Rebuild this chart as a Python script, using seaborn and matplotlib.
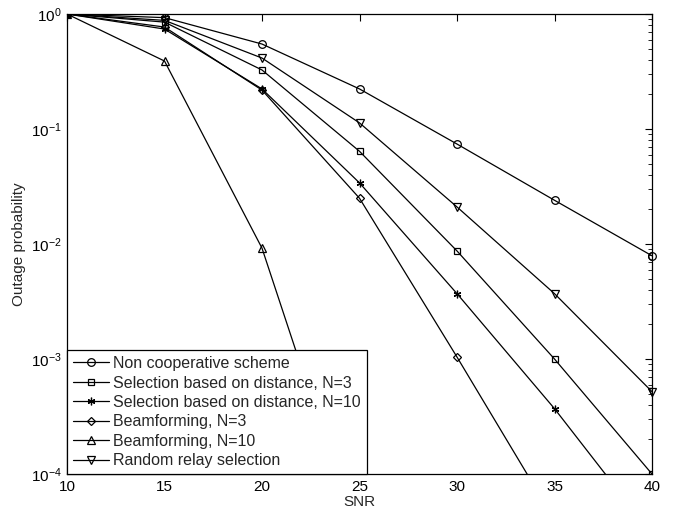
import matplotlib
matplotlib.use("Agg")
import matplotlib.pyplot as plt
import seaborn as sns
import numpy as np

snr_full = [10, 15, 20, 25, 30, 35, 40]
non_coop = [1.0, 0.93, 0.548, 0.223, 0.074, 0.024, 0.0079]
sel_n3 = [1.0, 0.85, 0.326, 0.064, 0.0087, 0.001, 1.0e-4]
sel_n10 = [1.0, 0.74, 0.223, 0.034, 0.0037, 0.00037, 3.0e-5]
snr_bf3 = [10, 15, 20, 25, 30, 35]
bf_n3 = [1.0, 0.77, 0.218, 0.025, 0.00104, 4.0e-5]
snr_bf10 = [10, 15, 20, 25]
bf_n10 = [1.0, 0.39, 0.0092, 2.5e-5]
rand_sel = [1.0, 0.88, 0.414, 0.113, 0.021, 0.0037, 5.2e-4]

labels = ["Non cooperative scheme",
          "Selection based on distance, N=3",
          "Selection based on distance, N=10",
          "Beamforming, N=3",
          "Beamforming, N=10",
          "Random relay selection"]
xticks = [10, 15, 20, 25, 30, 35, 40]

sns.set_style("white")
plt.rcParams['font.family'] = ['Liberation Sans', 'DejaVu Sans']
plt.rcParams['mathtext.fontset'] = 'custom'
plt.rcParams['mathtext.rm'] = 'Liberation Sans'
plt.rcParams['mathtext.it'] = 'Liberation Sans'

fig = plt.figure(figsize=(6.83, 5.13), dpi=100)
ax = fig.add_axes([67/683, 39/513, (652-67)/683, (474-14)/513])

series = [
    (snr_full, non_coop, 'o'),
    (snr_full, sel_n3, 's'),
    (snr_full, sel_n10, (6, 2, 0)),
    (snr_bf3, bf_n3, 'D'),
    (snr_bf10, bf_n10, '^'),
    (snr_full, rand_sel, 'v'),
]
for (xs, ys, mk), lab in zip(series, labels):
    ms = 5.5
    if mk == 'D':
        ms = 4.5
    if mk == 's':
        ms = 4.8
    sns.lineplot(x=xs, y=ys, ax=ax, color='black', linewidth=0.9,
                 marker=mk, markersize=ms, markerfacecolor='none',
                 markeredgecolor='black', markeredgewidth=0.9, label=lab)

ax.set_yscale('log')
ax.set_xlim(10, 40)
ax.set_ylim(1e-4, 1)
ax.set_xticks(xticks)
ax.set_xticklabels([str(t) for t in xticks])
ax.set_yticks([1e-4, 1e-3, 1e-2, 1e-1, 1])
ax.tick_params(axis='both', which='both', direction='in', top=True, right=True,
               labelsize=11, colors='black')
ax.tick_params(axis='both', which='major', length=5, width=0.8, pad=4)
ax.tick_params(axis='y', which='minor', length=3, width=0.6)
ax.tick_params(axis='x', which='minor', length=0)
for s in ax.spines.values():
    s.set_color('black')
    s.set_linewidth(0.9)
ax.set_xlabel("SNR", fontsize=11, labelpad=1)
ax.set_ylabel("Outage probability", fontsize=11, labelpad=3)
ax.grid(False)

leg = ax.legend(loc='lower left', fontsize=11.5, frameon=True, fancybox=False,
                edgecolor='black', framealpha=1, borderaxespad=0,
                handlelength=2.3, handletextpad=0.25, labelspacing=0.28,
                borderpad=0.35)
leg.get_frame().set_linewidth(0.9)

# markers at the right edge are drawn fully, like the reference
for ln in list(ax.get_lines()):
    xd = np.asarray(ln.get_xdata(), dtype=float)
    yd = np.asarray(ln.get_ydata(), dtype=float)
    pts = [(x, y) for x, y in zip(xd, yd) if x >= 40 and y > 1.0001e-4]
    for x, y in pts:
        ax.plot([x], [y], linestyle='none', marker=ln.get_marker(),
                markersize=ln.get_markersize(), markerfacecolor='none',
                markeredgecolor='black', markeredgewidth=0.9, clip_on=False)

fig.savefig("out.png", dpi=100)
